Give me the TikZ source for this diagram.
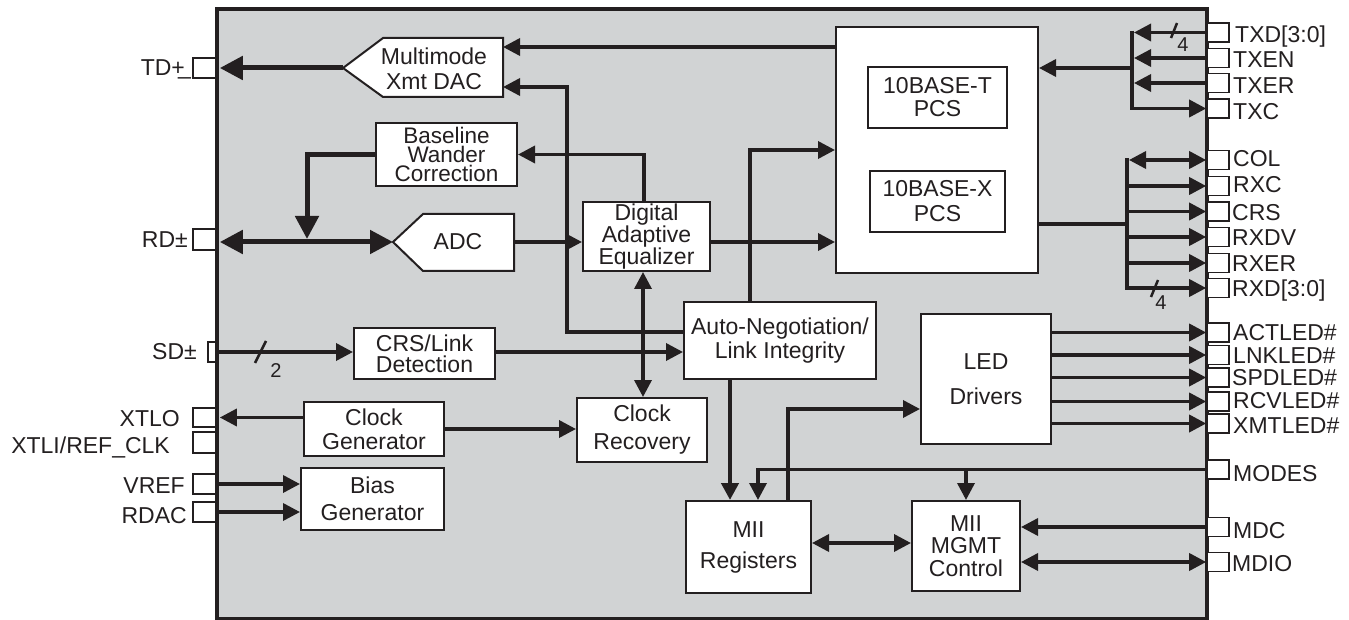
\documentclass[tikz,border=0pt]{standalone}
\usepackage{fontspec}
\setmainfont{Liberation Sans}
\usetikzlibrary{arrows.meta,calc}
\definecolor{ink}{HTML}{231F20}
\definecolor{panel}{HTML}{D1D3D4}
\begin{document}
\begin{tikzpicture}[x=1pt,y=-1pt,
  every node/.style={text=ink},
  blk/.style={draw=ink, fill=white, line width=2pt, inner sep=0pt, align=center, font=\fontsize{23}{24}\selectfont},
  shp/.style={draw=ink, fill=white, line width=2pt, line join=miter},
  padsq/.style={draw=ink, fill=white, line width=1.6pt, inner sep=0pt, minimum width=23pt, minimum height=20pt},
  rpad/.style={padsq, minimum width=22pt, minimum height=19pt},
  lbl/.style={inner sep=0pt, font=\fontsize{23}{24}\selectfont},
  small/.style={inner sep=0pt, font=\fontsize{20}{20}\selectfont},
  wire/.style={draw=ink, line width=3.5pt},
  arr/.style={wire, -{Triangle[length=17pt,width=17pt]}},
  darr/.style={wire, {Triangle[length=17pt,width=17pt]}-{Triangle[length=17pt,width=17pt]}},
  bigarr/.style={draw=ink, line width=5pt, -{Triangle[length=23pt,width=23pt]}},
  bigdarr/.style={draw=ink, line width=5pt, {Triangle[length=23pt,width=23pt]}-{Triangle[length=23pt,width=23pt]}},
  slash/.style={draw=ink, line width=2.5pt}
]
\useasboundingbox (0,0) rectangle (1349,620);
% chip outline
\draw[draw=ink, fill=panel, line width=4pt] (217,9) rectangle (1207,619);

% left pads
\node[padsq, minimum height=20pt] (tdpin) at (204.5,68) {};
\node[padsq, minimum height=21pt] (rdpin) at (204.5,239.5) {};
\node[padsq, minimum width=8pt, minimum height=20pt] (sdpin) at (212,352) {};
\node[padsq, minimum height=19pt] (xtlopin) at (204.5,417.5) {};
\node[padsq, minimum height=21pt] (xtlipin) at (204.5,442.5) {};
\node[padsq] (vrefpin) at (204.5,484) {};
\node[padsq] (rdacpin) at (204.5,512) {};

\node[lbl, anchor=base east] (tdl) at (191,76) {TD+\kern-0.3em\raisebox{1.5pt}{\_}};
\node[lbl, anchor=base east] (rdl) at (188,248) {RD±};
\node[lbl, anchor=base east] (sdl) at (197,359) {SD±};
\node[lbl, anchor=base east] (xtlol) at (180,426) {XTLO};
\node[lbl, anchor=base east] (xtlil) at (170,453) {XTLI/REF\_CLK};
\node[lbl, anchor=base east] (vrefl) at (185,493) {VREF};
\node[lbl, anchor=base east] (rdacl) at (187,523) {RDAC};

% right pads
\node[rpad] (txdpin) at (1218,32.5) {};
\node[rpad] (txenpin) at (1218,58) {};
\node[rpad] (txerpin) at (1218,83) {};
\node[rpad] (txcpin) at (1218,108.5) {};
\node[rpad] (colpin) at (1218,160) {};
\node[rpad] (rxcpin) at (1218,186) {};
\node[rpad] (crspin) at (1218,211.5) {};
\node[rpad] (rxdvpin) at (1218,237) {};
\node[rpad] (rxerpin) at (1218,263) {};
\node[rpad] (rxdpin) at (1218,288) {};
\node[rpad] (actpin) at (1218,332.5) {};
\node[rpad] (lnkpin) at (1218,355) {};
\node[rpad] (spdpin) at (1218,377.5) {};
\node[rpad] (rcvpin) at (1218,401.5) {};
\node[rpad] (xmtpin) at (1218,423.5) {};
\node[rpad] (modespin) at (1218,469.5) {};
\node[rpad] (mdcpin) at (1218,527) {};
\node[rpad] (mdiopin) at (1218,562) {};

\node[lbl, anchor=base west] at (1235,43) {TXD[3:0]};
\node[lbl, anchor=base west] at (1233,68) {TXEN};
\node[lbl, anchor=base west] at (1233,94) {TXER};
\node[lbl, anchor=base west] at (1233,120) {TXC};
\node[lbl, anchor=base west] at (1233,167) {COL};
\node[lbl, anchor=base west] at (1233,193) {RXC};
\node[lbl, anchor=base west] at (1232,221) {CRS};
\node[lbl, anchor=base west] at (1232,246) {RXDV};
\node[lbl, anchor=base west] at (1232,272) {RXER};
\node[lbl, anchor=base west] at (1232,297) {RXD[3:0]};
\node[lbl, anchor=base west] at (1233,340) {ACTLED\#};
\node[lbl, anchor=base west] at (1233,363) {LNKLED\#};
\node[lbl, anchor=base west] at (1232,385) {SPDLED\#};
\node[lbl, anchor=base west] at (1233,408) {RCVLED\#};
\node[lbl, anchor=base west] at (1233,433) {XMTLED\#};
\node[lbl, anchor=base west] at (1233,481) {MODES};
\node[lbl, anchor=base west] at (1233,538) {MDC};
\node[lbl, anchor=base west] at (1232,571) {MDIO};

% pentagon blocks
\draw[shp] (343,68) -- (383,38) -- (503,38) -- (503,97) -- (383,97) -- cycle;
\coordinate (dactip) at (343,68);
\coordinate (dacin1) at (503,47);
\coordinate (dacin2) at (503,87);
\node[lbl, align=center, font=\fontsize{23}{25}\selectfont] (dac) at (434,69) {Multimode\\Xmt DAC};

\draw[shp] (393,242) -- (423,214) -- (514,214) -- (514,271) -- (423,271) -- cycle;
\coordinate (adctip) at (393,242);
\coordinate (adcout) at (514,242);
\node[lbl] (adc) at (458,242) {ADC};

% rectangular blocks
\node[blk, minimum width=141pt, minimum height=63pt, font=\fontsize{22.5}{19}\selectfont] (bw) at (446.5,154.5) {Baseline\\Wander\\Correction};
\node[blk, minimum width=127pt, minimum height=69pt, font=\fontsize{23}{20.5}\selectfont] (dae) at (646.5,236.5) {Digital\\Adaptive\\Equalizer};
\node[blk, minimum width=141pt, minimum height=51pt, font=\fontsize{23}{21}\selectfont] (crs) at (424.5,353.5) {CRS/Link\\Detection};
\node[blk, minimum width=140pt, minimum height=54pt] (cg) at (374,429) {Clock\\Generator};
\node[blk, minimum width=143pt, minimum height=62pt, font=\fontsize{23}{27}\selectfont] (bias) at (372.5,499) {Bias\\Generator};
\node[blk, minimum width=130pt, minimum height=64pt, font=\fontsize{23}{28}\selectfont] (cr) at (642,430) {Clock\\Recovery};
\node[blk, minimum width=192pt, minimum height=77pt] (an) at (780,340.5) {Auto-Negotiation/\\Link Integrity};
\node[blk, minimum width=125pt, minimum height=92pt, font=\fontsize{23}{31}\selectfont] (miir) at (748.5,547) {MII\\Registers};
\node[blk, minimum width=108pt, minimum height=90pt, font=\fontsize{23}{22.5}\selectfont] (mgmt) at (966,546) {MII\\MGMT\\Control};
\node[blk, minimum width=130pt, minimum height=130pt, font=\fontsize{23}{35}\selectfont] (led) at (986,379) {LED\\Drivers};
\node[blk, minimum width=202pt, minimum height=246pt] (pcs) at (937,150) {};
\node[blk, minimum width=139pt, minimum height=61pt, font=\fontsize{23}{23}\selectfont] (pcst) at (937.5,97.5) {10BASE-T\\PCS};
\node[blk, minimum width=135pt, minimum height=61pt, font=\fontsize{23}{25}\selectfont] (pcsx) at (937.5,201.5) {10BASE-X\\PCS};

% transmit / receive line side
\draw[bigarr] (dactip) -- ([xshift=3pt]tdpin.east);
\draw[arr] (pcs.west |- dacin1) -- (dacin1);
\draw[arr] (an.west |- 0,332) -| (567,87) -- (dacin2);
\draw[arr] (adcout) -- (dae.west |- adcout);
\draw[arr] (dae.north -| 644,0) |- (bw.east);
\coordinate (rdjoin) at (307,239);
\draw[bigarr] (bw.west) -| (rdjoin);
\draw[bigdarr] ([xshift=3pt]rdpin.east |- adctip) -- (adctip);
\draw[arr] (dae.east |- adcout) -- (pcs.west |- adcout);
\draw[arr] (an.north -| 750,0) |- (pcs.west);
\draw[darr] (dae.south -| 643,0) -- (cr.north -| 643,0);
\draw[arr] (crs.east |- 0,352) -- (an.west |- 0,352);
\draw[arr] (sdpin.east) -- (crs.west |- sdpin.east);
\draw[slash] (255,363) -- (266,341);
\node[small] (sdw) at (276,371) {2};
\draw[arr] (cg.west |- xtlopin.east) -- ([xshift=3pt]xtlopin.east);
\draw[arr] (cg.east) -- (cr.west |- cg.east);
\draw[arr] (vrefpin.east) -- (bias.west |- vrefpin.east);
\draw[arr] (rdacpin.east) -- (bias.west |- rdacpin.east);

% management
\draw[arr, line width=4.5pt] (an.south -| 730,0) -- (miir.north -| 730,0);
\draw[arr] (modespin.west) -| (miir.north -| 758,0);
\draw[arr] (modespin.west -| mgmt.north) -- (mgmt.north);
\draw[arr] (miir.north -| 788,0) |- (led.west |- 0,409);
\draw[darr] (miir.east |- 0,543) -- (mgmt.west |- 0,543);
\draw[arr] (mdcpin.west) -- (mgmt.east |- mdcpin.west);
\draw[darr] (mgmt.east |- mdiopin.west) -- (mdiopin.west);
\foreach \p in {actpin,lnkpin,spdpin,rcvpin,xmtpin}
  \draw[arr] (led.east |- \p.west) -- (\p.west);

% MII transmit bus
\draw[arr] (txdpin.west) -- (txdpin.west -| 1134,0);
\draw[arr] (txenpin.west) -- (txenpin.west -| 1134,0);
\draw[arr] (txerpin.west) -- (txerpin.west -| 1134,0);
\draw[arr] ([yshift=1.75pt]txdpin.west -| 1132,0) |- (txcpin.west);
\draw[arr] (1132,68) -- (pcs.east |- 0,68);
\draw[slash] (1171,38) -- (1177,23);
\node[small] (txw) at (1183,45) {4};

% MII receive bus
\draw[wire] (pcs.east |- 0,224) -- (1127,224);
\draw[arr] ([yshift=1.75pt]colpin.west -| 1127,0) |- (rxdpin.west);
\draw[darr] (colpin.west -| 1129,0) -- (colpin.west);
\draw[arr] (rxcpin.west -| 1127,0) -- (rxcpin.west);
\draw[arr] (crspin.west -| 1127,0) -- (crspin.west);
\draw[arr] (rxdvpin.west -| 1127,0) -- (rxdvpin.west);
\draw[arr] (rxerpin.west -| 1127,0) -- (rxerpin.west);
\draw[slash] (1151,297) -- (1158,280);
\node[small] (rxw) at (1161,303) {4};
\end{tikzpicture}
\end{document}
